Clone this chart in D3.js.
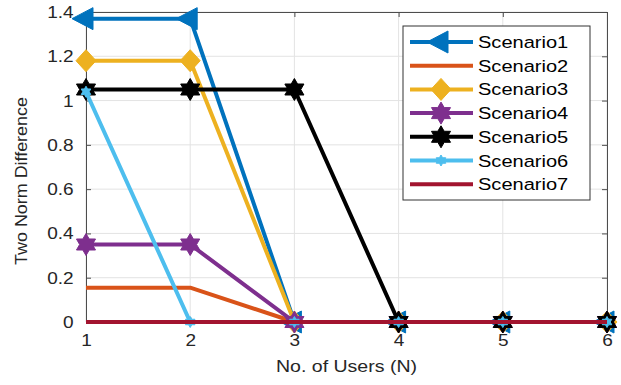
<!DOCTYPE html>
<html>
<head>
<meta charset="utf-8">
<script src="https://cdn.jsdelivr.net/npm/d3@7"></script>
<style>
  body { margin: 0; background: #fff; }
  text { font-family: "Liberation Sans", Arial, sans-serif; fill: #262626; }
</style>
</head>
<body>
<svg id="chart" width="621" height="385"></svg>
<script>
// data
var users = [1, 2, 3, 4, 5, 6];
var names = ["Scenario1", "Scenario2", "Scenario3", "Scenario4", "Scenario5", "Scenario6", "Scenario7"];
var colors = ["#0072BD", "#D95319", "#EDB120", "#7E2F8E", "#000000", "#4DBEEE", "#A2142F"];
var markers = ["tri", "none", "diamond", "hex", "hex", "hexSmall", "none"];
var s1 = [1.37, 1.37, 0, 0, 0, 0];
var s2 = [0.155, 0.155, 0, 0, 0, 0];
var s3 = [1.18, 1.18, 0, 0, 0, 0];
var s4 = [0.35, 0.35, 0, 0, 0, 0];
var s5 = [1.05, 1.05, 1.05, 0, 0, 0];
var s6 = [1.04, 0, 0, 0, 0, 0];
var s7 = [0, 0, 0, 0, 0, 0];
var series = [s1, s2, s3, s4, s5, s6, s7];
var yTicks = [0, 0.2, 0.4, 0.6, 0.8, 1, 1.2, 1.4];

var svg = d3.select("#chart");
var x = d3.scaleLinear().domain([1, 6]).range([86, 607]);
var y = d3.scaleLinear().domain([0, 1.4]).range([322, 12]);

// grid
svg.append("g")
    .selectAll("line")
    .data(users)
    .enter()
    .append("line")
    .attr("x1", function (d) { return x(d); })
    .attr("x2", function (d) { return x(d); })
    .attr("y1", y(0)).attr("y2", y(1.4))
    .attr("stroke", "#e3e3e3").attr("stroke-width", 1);
svg.append("g")
    .selectAll("line")
    .data(yTicks)
    .enter()
    .append("line")
    .attr("y1", function (d) { return y(d); })
    .attr("y2", function (d) { return y(d); })
    .attr("x1", x(1)).attr("x2", x(6))
    .attr("stroke", "#e3e3e3").attr("stroke-width", 1);

// axes
var xAxis = svg.append("g")
    .attr("transform", "translate(0," + y(0) + ")")
    .call(d3.axisBottom(x).tickValues(users).tickSize(-5).tickPadding(12).tickFormat(d3.format("d")));
var yAxis = svg.append("g")
    .attr("transform", "translate(" + x(1) + ",0)")
    .call(d3.axisLeft(y).tickValues(yTicks).tickSize(-5).tickPadding(10).tickFormat(function (d) { return d === 0 || d === 1 ? d : d.toFixed(1); }));
svg.append("g")
    .attr("transform", "translate(0," + y(1.4) + ")")
    .call(d3.axisTop(x).tickValues(users).tickSize(-5).tickFormat(""));
svg.append("g")
    .attr("transform", "translate(" + x(6) + ",0)")
    .call(d3.axisRight(y).tickValues(yTicks).tickSize(-5).tickFormat(""));

svg.selectAll(".domain, .tick line").attr("stroke", "#4d4d4d");
xAxis.selectAll("text").attr("font-size", 17).style("fill", "#262626")
    .attr("transform", "scale(1.12,1)");
yAxis.selectAll("text").attr("font-size", 17).style("fill", "#262626")
    .attr("transform", function () { return "translate(-" + 0 + ",0)"; });
yAxis.selectAll(".tick text").each(function () {
    var t = d3.select(this);
    t.attr("transform", "translate(" + (+t.attr("x")) * 0.12 + ",0) scale(1.12,1)");
});

// marker shapes
function markerPath(kind) {
    if (kind === "tri") return "M-14,0L7,-11L7,11Z";
    if (kind === "diamond") return "M0,-11L10,0L0,11L-10,0Z";
    var r = kind === "hex" ? 11 : 5.5, ri = r * 0.58, p = [];
    for (var i = 0; i < 12; i++) {
        var a = Math.PI / 2 + i * Math.PI / 6, rr = i % 2 === 0 ? r : ri;
        p.push([rr * Math.cos(a), -rr * Math.sin(a)]);
    }
    return "M" + p.join("L") + "Z";
}

var line = d3.line()
    .x(function (d, i) { return x(users[i]); })
    .y(function (d) { return y(d); });

series.forEach(function (vals, k) {
    var g = svg.append("g");
    g.append("path")
        .attr("d", line(vals))
        .attr("fill", "none")
        .attr("stroke", colors[k])
        .attr("stroke-width", 4)
        .attr("stroke-linejoin", "round");
    if (markers[k] !== "none") {
        g.selectAll("path.mk")
            .data(vals)
            .enter()
            .append("path")
            .attr("class", "mk")
            .attr("d", markerPath(markers[k]))
            .attr("transform", function (d, i) { return "translate(" + x(users[i]) + "," + y(d) + ")"; })
            .attr("fill", colors[k])
            .attr("stroke", colors[k])
            .attr("stroke-width", 1);
    }
});

// legend
var leg = svg.append("g");
leg.append("rect")
    .attr("x", 403).attr("y", 26).attr("width", 187).attr("height", 174)
    .attr("fill", "#fff").attr("stroke", "#333").attr("stroke-width", 1);
names.forEach(function (n, k) {
    var cy = 42 + k * 23.7;
    leg.append("line")
        .attr("x1", 410).attr("x2", 473).attr("y1", cy).attr("y2", cy)
        .attr("stroke", colors[k]).attr("stroke-width", 4);
    if (markers[k] !== "none") {
        leg.append("path")
            .attr("d", markerPath(markers[k]))
            .attr("transform", "translate(441," + cy + ")")
            .attr("fill", colors[k]).attr("stroke", colors[k]);
    }
    leg.append("text")
        .attr("transform", "translate(478," + (cy + 6) + ") scale(1.18,1)")
        .attr("font-size", 17)
        .style("fill", "#000")
        .text(n);
});

// axis labels
svg.append("text")
    .attr("transform", "translate(" + (x(3.5)) + ",372) scale(1.15,1)")
    .attr("text-anchor", "middle")
    .attr("font-size", 17)
    .text("No. of Users (N)");
svg.append("text")
    .attr("transform", "translate(27,181) rotate(-90) scale(1.12,1)")
    .attr("text-anchor", "middle")
    .attr("font-size", 16)
    .text("Two Norm Difference");
</script>
</body>
</html>
